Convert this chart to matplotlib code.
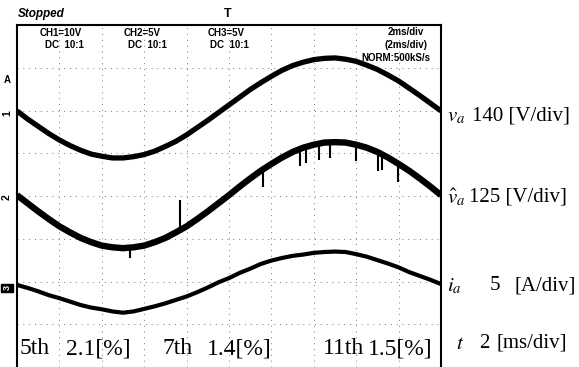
import matplotlib
matplotlib.use('Agg')
import matplotlib.pyplot as plt
import numpy as np

plt.rcParams['mathtext.fontset'] = 'stix'

W, H = 579, 367

# ---- data (screen divisions, 0..8 from bottom; time in ms, 2 ms/div) ----
time_ms = np.linspace(0, 20, 41)

v_a = [5.99, 5.80, 5.63, 5.46, 5.31, 5.18, 5.07, 4.98, 4.93, 4.89, 4.89,
       4.92, 4.97, 5.05, 5.16, 5.28, 5.43, 5.60, 5.77, 5.95, 6.13, 6.31,
       6.49, 6.65, 6.80, 6.94, 7.05, 7.13, 7.19, 7.22, 7.23, 7.20, 7.15,
       7.06, 6.96, 6.83, 6.69, 6.52, 6.35, 6.17, 5.99]

v_hat = [4.02, 3.83, 3.64, 3.46, 3.29, 3.15, 3.02, 2.92, 2.84, 2.80, 2.78,
         2.80, 2.84, 2.92, 3.02, 3.15, 3.29, 3.46, 3.64, 3.83, 4.02, 4.22,
         4.41, 4.59, 4.75, 4.90, 5.03, 5.13, 5.20, 5.25, 5.26, 5.25, 5.20,
         5.13, 5.03, 4.90, 4.75, 4.59, 4.41, 4.22, 4.02]

i_a = [1.92, 1.85, 1.77, 1.68, 1.61, 1.53, 1.45, 1.39, 1.35, 1.30, 1.27,
       1.30, 1.36, 1.42, 1.49, 1.57, 1.65, 1.75, 1.86, 1.98, 2.08, 2.20,
       2.30, 2.41, 2.49, 2.55, 2.60, 2.63, 2.67, 2.69, 2.70, 2.69, 2.64,
       2.58, 2.50, 2.42, 2.33, 2.22, 2.13, 2.04, 1.94]

spike_t = [5.33, 7.69, 11.6, 13.35, 13.63, 14.25, 14.76, 15.99, 17.03, 17.22, 17.97]
spike_from = [2.78, 3.20, 4.62, 5.10, 5.15, 5.23, 5.26, 5.20, 5.02, 4.97, 4.76]
spike_to = [2.55, 3.91, 4.20, 4.70, 4.78, 4.85, 4.88, 4.82, 4.58, 4.60, 4.32]

grid_x = [2, 4, 6, 8, 10, 12, 14, 16, 18]
grid_y = [1, 2, 3, 4, 5, 6, 7]

harmonics = ["5th", "7th", "11th"]
thd_values = ["2.1[%]", "1.4[%]", "1.5[%]"]

# ---- figure ----
fig = plt.figure(figsize=(W / 100, H / 100), dpi=100)
ax = fig.add_axes([17 / W, 0, 424 / W, 342 / H])
ax.set_xlim(0, 20)
ax.set_ylim(0, 8)

for gx in grid_x:
    ax.axvline(gx, color='#777777', lw=0.7, ls=(0, (1, 5)), zorder=1)
for gy in grid_y:
    ax.axhline(gy, color='#777777', lw=0.7, ls=(0, (1, 5)), zorder=1)

ax.plot(time_ms, v_a, color='black', lw=3.8, solid_capstyle='butt', zorder=3)
ax.plot(time_ms, v_hat, color='black', lw=4.6, solid_capstyle='butt', zorder=3)
ax.plot(time_ms, i_a, color='black', lw=3.0, solid_capstyle='butt', zorder=3)
ax.vlines(spike_t, spike_from, spike_to, color='black', lw=1.5, zorder=3)

ax.set_xticks([])
ax.set_yticks([])
ax.spines['bottom'].set_visible(False)
for s in ['left', 'right', 'top']:
    ax.spines[s].set_linewidth(1.5)
    ax.spines[s].set_color('black')


def ft(x, y, s, **kw):
    fig.text(x / W, 1 - y / H, s, **kw)


hdr = dict(family='Liberation Sans', weight='bold', fontsize=7, va='center', ha='left')
ft(18, 14, 'Stopped', family='Liberation Sans', weight='bold', style='italic',
   fontsize=8.5, va='center', ha='left')
ft(40, 33, 'CH1=10V', **hdr)
ft(45, 45, 'DC  10:1', **hdr)
ft(124, 33, 'CH2=5V', **hdr)
ft(128, 45, 'DC  10:1', **hdr)
ft(208, 33, 'CH3=5V', **hdr)
ft(210, 45, 'DC  10:1', **hdr)
ft(228, 14, 'T', family='Liberation Sans', weight='bold', fontsize=9, va='center', ha='center')
ft(406, 32, '2ms/div', **{**hdr, 'ha': 'center'})
ft(406, 45, '(2ms/div)', **{**hdr, 'ha': 'center'})
ft(396, 58, 'NORM:500kS/s', **{**hdr, 'ha': 'center'})

# left channel markers
ft(7, 80, 'A', family='Liberation Sans', weight='bold', fontsize=7, va='center', ha='center')
ft(7, 113, '1', family='Liberation Sans', weight='bold', fontsize=7.5, va='center',
   ha='center', rotation=90)
ft(7, 197, '2', family='Liberation Sans', weight='bold', fontsize=7.5, va='center',
   ha='center', rotation=90)
ft(7, 288, '3', family='Liberation Sans', weight='bold', fontsize=6.5, va='center',
   ha='center', rotation=90, color='white',
   bbox=dict(boxstyle='square,pad=0.15', fc='black', ec='black'))

# right labels
serif = dict(family='Liberation Serif', fontsize=15, va='center', ha='left')
ft(447, 116, r'$v_a$', fontsize=15, va='center', ha='left')
ft(472, 116, '140 [V/div]', **serif)
ft(447, 197, r'$\hat{v}_a$', fontsize=15, va='center', ha='left')
ft(469, 197, '125 [V/div]', **serif)
ft(447, 286, r'$i_a$', fontsize=15, va='center', ha='left')
ft(490, 286, '5', **serif)
ft(515, 286, '[A/div]', **serif)
ft(456, 343, r'$t$', fontsize=15, va='center', ha='left')
ft(479, 343, '2', **serif)
ft(497, 343, '[ms/div]', **serif)

# bottom harmonic text
bot = dict(family='Liberation Serif', fontsize=17, va='center', ha='left')
for name, val, xn, xv in zip(harmonics, thd_values, [20, 162, 323], [66, 207, 368]):
    ft(xn, 349, name, **bot)
    ft(xv, 349, val, **bot)

fig.savefig('out.png', dpi=100, facecolor='white')
